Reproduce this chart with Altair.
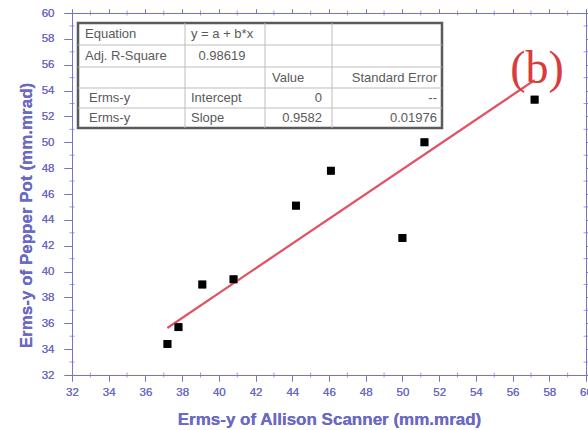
import altair as alt
import pandas as pd

# ---------------- data ----------------
allison = [37.2, 37.8, 39.1, 40.8, 44.2, 46.1, 50.0, 51.2, 57.2]
pepper = [34.4, 35.7, 39.0, 39.4, 45.1, 47.8, 42.6, 50.0, 53.3]
fit_slope = 0.9582
fit_intercept = 0.0
fit_x = [37.2, 57.2]
major_ticks = list(range(32, 61, 2))
minor_ticks = list(range(33, 60, 2))

table_col0 = ["Equation", "Adj. R-Square", "", "Erms-y", "Erms-y"]
table_col1 = ["y = a + b*x", "0.98619", "", "Intercept", "Slope"]
table_col2 = ["", "", "Value", "0", "0.9582"]
table_col3 = ["", "", "Standard Error", "--", "0.01976"]

x_title = "Erms-y of Allison Scanner (mm.mrad)"
y_title = "Erms-y of Pepper Pot (mm.mrad)"
label_b = "(b)"

# ---------------- layout ----------------
W, H = 514, 362
AX = "#7474cc"
LAB = "#6a6ac4"
FONT = "Liberation Sans"

pts = pd.DataFrame({"x": allison, "y": pepper})
fit = pd.DataFrame({"x": fit_x, "y": [fit_intercept + fit_slope * v for v in fit_x]})

xs = alt.Scale(domain=[32, 60], nice=False, zero=False)
ys = alt.Scale(domain=[32, 60], nice=False, zero=False)

points = alt.Chart(pts).mark_square(size=60, color="black", opacity=1).encode(
    x=alt.X("x:Q", scale=xs, axis=alt.Axis(
        values=major_ticks, title=x_title, orient="bottom", grid=False,
        domainColor=AX, tickColor=AX, labelColor=LAB, titleColor=LAB,
        tickSize=6, labelPadding=5, labelFontSize=11.5, labelFont=FONT,
        titleFont=FONT, titleFontSize=17, titleFontWeight="bold", titlePadding=14,
        labelFlush=False)),
    y=alt.Y("y:Q", scale=ys, axis=alt.Axis(
        values=major_ticks, title=y_title, orient="left", grid=False,
        domainColor=AX, tickColor=AX, labelColor=LAB, titleColor=LAB,
        tickSize=8, labelPadding=10, labelFontSize=11.5, labelFont=FONT,
        titleFont=FONT, titleFontSize=17, titleFontWeight="bold", titlePadding=6,
        titleY=202, labelFlush=False)),
)

line = alt.Chart(fit).mark_line(color="#e2505f", strokeWidth=2, opacity=0.85).encode(
    x=alt.X("x:Q", scale=xs, axis=alt.Axis(
        values=major_ticks, orient="top", labels=False, title=None, grid=False,
        domainColor=AX, tickColor=AX, tickSize=4)),
    y=alt.Y("y:Q", scale=ys, axis=alt.Axis(
        values=major_ticks, orient="right", labels=False, title=None, grid=False,
        domainColor=AX, tickColor=AX, tickSize=4)),
)

mt = pd.DataFrame({"v": minor_ticks})
minor_layers = []
for yv in [0, H]:
    minor_layers.append(alt.Chart(mt).mark_tick(orient="vertical", color=AX, size=5, thickness=1).encode(
        x=alt.X("v:Q", scale=xs, axis=None), y=alt.value(yv)))
for xv in [0, W]:
    minor_layers.append(alt.Chart(mt).mark_tick(orient="horizontal", color=AX, size=5, thickness=1).encode(
        y=alt.Y("v:Q", scale=ys, axis=None), x=alt.value(xv)))

# ---------------- table ----------------
one = alt.Data(values=[{"a": 1}])
T_L, T_R, T_T, T_B = 6, 370, 10, 115
row_lines = [32, 54, 75, 95]
col_lines = [113, 193, 260]
row_centers = [21, 43, 64.5, 85, 105]

table_layers = [
    alt.Chart(one).mark_rect(fill="white", stroke="#5a5a5a", strokeWidth=2.5).encode(
        x=alt.value(T_L), x2=alt.value(T_R), y=alt.value(T_T), y2=alt.value(T_B))
]
for ry in row_lines:
    table_layers.append(alt.Chart(one).mark_rule(color="#bdbdbd", strokeWidth=1).encode(
        x=alt.value(T_L), x2=alt.value(T_R), y=alt.value(ry)))
for cx in col_lines:
    table_layers.append(alt.Chart(one).mark_rule(color="#bdbdbd", strokeWidth=1).encode(
        x=alt.value(cx), y=alt.value(T_T), y2=alt.value(T_B)))

def cell(text, x, y, align):
    return alt.Chart(one).mark_text(
        font=FONT, fontSize=13, color="#5a5a5a", align=align, baseline="middle"
    ).encode(x=alt.value(x), y=alt.value(y), text=alt.value(text))

for i, yc in enumerate(row_centers):
    if table_col0[i]:
        table_layers.append(cell(table_col0[i], 13 if i < 2 else 17, yc, "left"))
    if table_col1[i]:
        if i == 1:
            table_layers.append(cell(table_col1[i], 150, yc, "center"))
        else:
            table_layers.append(cell(table_col1[i], 119, yc, "left"))
    if table_col2[i]:
        if i == 2:
            table_layers.append(cell(table_col2[i], 200, yc, "left"))
        else:
            table_layers.append(cell(table_col2[i], 250, yc, "right"))
    if table_col3[i]:
        table_layers.append(cell(table_col3[i], 365, yc, "right"))

b_text = alt.Chart(one).mark_text(
    font="Liberation Serif", fontSize=46, color="#d83c3c", align="center", baseline="alphabetic"
).encode(x=alt.value(465), y=alt.value(70), text=alt.value(label_b))

chart = alt.layer(
    points, line, *minor_layers, line, *table_layers, points, b_text
).resolve_axis(x="independent", y="independent").properties(
    width=W, height=H,
    autosize=alt.AutoSizeParams(type="none"),
    padding={"left": 72, "top": 13, "right": 2, "bottom": 55},
).configure_view(stroke=None)

chart.save("out.html", embed_options={"renderer": "svg", "actions": False})
